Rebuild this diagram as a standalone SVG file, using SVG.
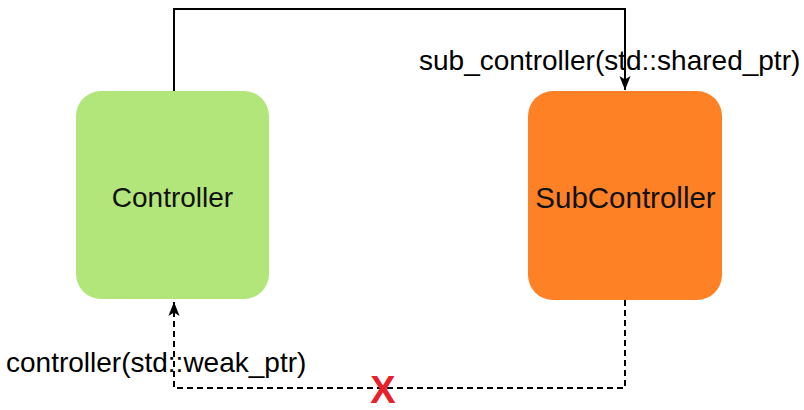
<svg xmlns="http://www.w3.org/2000/svg" width="804" height="410" viewBox="0 0 804 410">
<defs>
<style>
.lbl{font-family:"Liberation Sans",Arial,sans-serif;font-size:28px;fill:#000}
.node-text{font-family:"Liberation Sans",Arial,sans-serif;font-size:28px;fill:#111;text-anchor:middle}
.edge{fill:none;stroke:#000;stroke-width:2}
.dash{stroke-dasharray:6 4}
</style>
<marker id="arrowb" viewBox="0 0 10 10" refX="10" refY="5" markerWidth="14" markerHeight="14" markerUnits="userSpaceOnUse" orient="auto">
<path d="M0,1 L10,5 L0,9 L2.5,5 z" fill="#000"/>
</marker>
</defs>
<rect width="804" height="410" fill="#fff"/>
<g id="connectors">
<path class="edge" d="M174,91 V9 H625 V90" marker-end="url(#arrowb)"/>
<path class="edge dash" d="M625,300 V388 H174 V302" marker-end="url(#arrowb)"/>
</g>
<g id="controller">
<rect x="76" y="91" width="193" height="208" rx="25" fill="#B3E67A"/>
<text class="node-text" x="172.5" y="207">Controller</text>
</g>
<g id="subcontroller">
<rect x="528" y="91" width="194" height="209" rx="25" fill="#FE8126"/>
<text class="node-text" x="625.5" y="208" style="font-size:29.5px">SubController</text>
</g>
<g id="labels">
<text class="lbl" x="419" y="70">sub_controller(std::shared_ptr)</text>
<text class="lbl" x="6" y="372">controller(std::weak_ptr)</text>
<text x="383" y="403" text-anchor="middle" font-family="Liberation Sans,Arial,sans-serif" font-weight="bold" font-size="38" fill="#E8202A">X</text>
</g>
</svg>
